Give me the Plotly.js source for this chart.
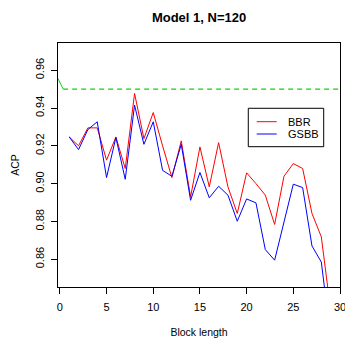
<!DOCTYPE html>
<html>
<head>
<meta charset="utf-8">
<script src="https://cdn.plot.ly/plotly-3.0.1.min.js"></script>
<style>html,body{margin:0;padding:0;background:#fff;}#chart{width:345px;height:338px;}</style>
</head>
<body>
<div id="chart"></div>
<script>
// Block lengths
var blockLength = [1,2,3,4,5,6,7,8,9,10,11,12,13,14,15,16,17,18,19,20,21,22,23,24,25,26,27,28,29];
// ACP series
var bbr  = [0.9247,0.9200,0.9295,0.9295,0.9124,0.9247,0.9080,0.9477,0.9238,0.9376,0.9200,0.9032,0.9226,0.8930,0.9194,0.8983,0.9217,0.8983,0.8842,0.9057,0.9000,0.8939,0.8784,0.9039,0.9106,0.9080,0.8842,0.8718,0.8330];
var gsbb = [0.9247,0.9180,0.9286,0.9327,0.9032,0.9244,0.9023,0.9415,0.9208,0.9327,0.9070,0.9039,0.9208,0.8912,0.9059,0.8925,0.8986,0.8939,0.8801,0.8919,0.8898,0.8651,0.8595,0.8797,0.8997,0.8979,0.8670,0.8585,0.8185];
// Nominal level line (solid lead-in then dashed)
var nominalLeadX = [-0.2, 0.35];
var nominalLeadY = [0.9556, 0.95];
var nominalX = [0.35, 30];
var nominalY = [0.95, 0.95];
var seriesNames = ['BBR','GSBB'];
var xTicks = [0,5,10,15,20,25,30];
var yTicks = [0.86,0.88,0.90,0.92,0.94,0.96];

var font = 'Liberation Sans, Arial, Helvetica, sans-serif';
var green = '#11D011';

var traces = [
  {x: nominalLeadX, y: nominalLeadY, mode:'lines', line:{color:green, width:1}, showlegend:false, hoverinfo:'skip'},
  {x: nominalX, y: nominalY, mode:'lines', line:{color:green, width:1.1, dash:'5px,4px'}, showlegend:false, hoverinfo:'skip'},
  {x: blockLength, y: bbr, mode:'lines', name: seriesNames[0], line:{color:'#FF0000', width:1}, showlegend:false},
  {x: blockLength, y: gsbb, mode:'lines', name: seriesNames[1], line:{color:'#0000FF', width:1}, showlegend:false}
];

var layout = {
  width:345, height:338,
  margin:{l:58, r:5, t:43, b:51},
  paper_bgcolor:'#fff', plot_bgcolor:'#fff',
  font:{family:font, color:'#000', size:11},
  title:{text:'<b>Model 1, N=120</b>', font:{family:font, size:13, color:'#000'}, x:0.577, xref:'container', xanchor:'center', y:1-17/338, yref:'container', yanchor:'middle'},
  xaxis:{
    range:[-0.2, 30], tickvals: xTicks, ticktext: xTicks.map(String),
    ticks:'outside', ticklen:6, tickcolor:'#000', tickwidth:1,
    ticklabelstandoff:4, ticklabeloverflow:'allow',
    showline:true, linecolor:'#000', linewidth:1, mirror:true,
    showgrid:false, zeroline:false, tickfont:{size:11, family:font},
    title:{text:'Block length', font:{size:10.5, family:font}, standoff:20}
  },
  yaxis:{
    range:[0.8453, 0.9744], tickvals: yTicks, ticktext: yTicks.map(function(v){return v.toFixed(2);}),
    tickangle:-90, ticklabelstandoff:3,
    ticks:'outside', ticklen:6, tickcolor:'#000', tickwidth:1,
    showline:true, linecolor:'#000', linewidth:1, mirror:true,
    showgrid:false, zeroline:false, tickfont:{size:11, family:font},
    title:{text:'ACP', font:{size:10.5, family:font}, standoff:11}
  },
  shapes:[
    {type:'rect', xref:'paper', yref:'paper', x0:0.6748, x1:0.9422, y0:0.575, y1:0.7324, line:{color:'#000', width:1}, fillcolor:'rgba(0,0,0,0)'},
    {type:'line', xref:'paper', yref:'paper', x0:0.7046, x1:0.7755, y0:0.6775, y1:0.6775, line:{color:'#FF0000', width:1}},
    {type:'line', xref:'paper', yref:'paper', x0:0.7046, x1:0.7755, y0:0.627, y1:0.627, line:{color:'#0000FF', width:1}}
  ],
  annotations:[
    {xref:'paper', yref:'paper', x:0.8074, y:0.6775, xanchor:'left', yanchor:'middle', text:seriesNames[0], showarrow:false, font:{size:11, family:font, color:'#000'}},
    {xref:'paper', yref:'paper', x:0.8074, y:0.627, xanchor:'left', yanchor:'middle', text:seriesNames[1], showarrow:false, font:{size:11, family:font, color:'#000'}}
  ]
};

Plotly.newPlot('chart', traces, layout, {displayModeBar:false, staticPlot:true});
</script>
</body>
</html>
